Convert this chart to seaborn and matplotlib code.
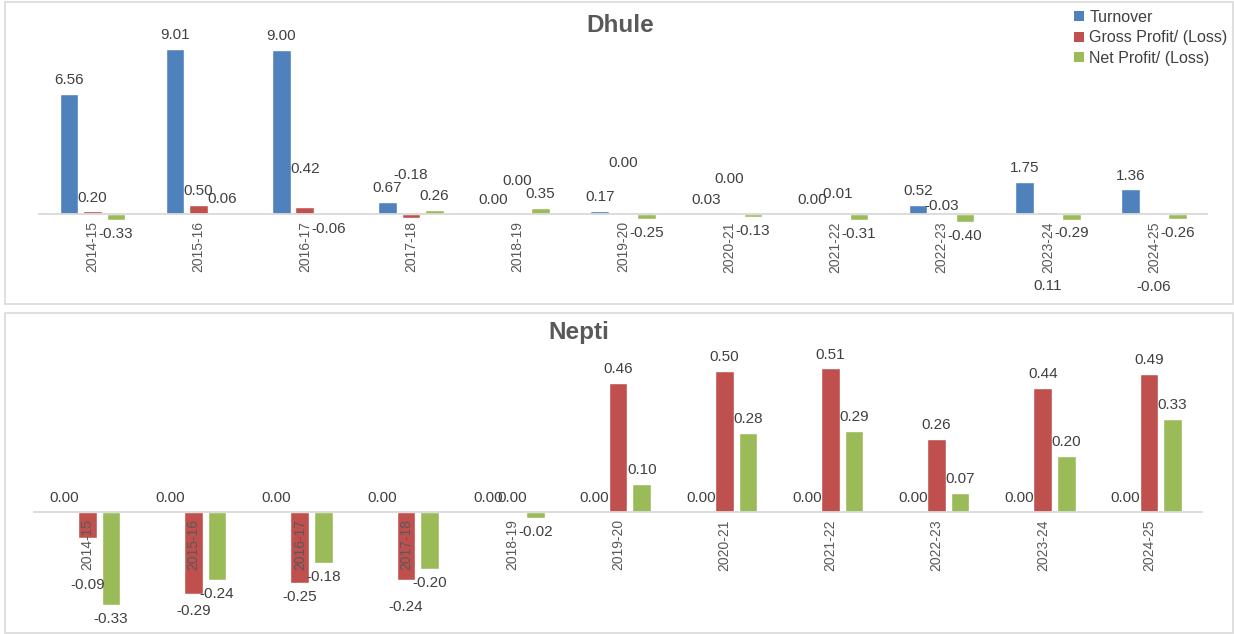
# %%
import numpy as np
import pandas as pd
import seaborn as sns
from matplotlib import pyplot as plt
from matplotlib.patches import Rectangle, Patch

# %% Data
years = ["2014-15", "2015-16", "2016-17", "2017-18", "2018-19", "2019-20",
         "2020-21", "2021-22", "2022-23", "2023-24", "2024-25"]
series = ["Turnover", "Gross Profit/ (Loss)", "Net Profit/ (Loss)"]

dhule_turnover = [6.56, 9.01, 9.00, 0.67, 0.00, 0.17, 0.03, 0.00, 0.52, 1.75, 1.36]
dhule_gross = [0.20, 0.50, 0.42, -0.18, 0.00, 0.00, 0.00, -0.01, -0.03, 0.11, -0.06]
dhule_net = [-0.33, 0.06, -0.06, 0.26, 0.35, -0.25, -0.13, -0.31, -0.40, -0.29, -0.26]

nepti_turnover = [0.00, 0.00, 0.00, 0.00, 0.00, 0.00, 0.00, 0.00, 0.00, 0.00, 0.00]
nepti_gross = [-0.09, -0.29, -0.25, -0.24, 0.00, 0.46, 0.50, 0.51, 0.26, 0.44, 0.49]
nepti_net = [-0.33, -0.24, -0.18, -0.20, -0.02, 0.10, 0.28, 0.29, 0.07, 0.20, 0.33]

# %% Constants
colors = ["#4F81BD", "#C0504D", "#9BBB59"]
W, H = 1234, 634
lblStd = 10  # points between bar end and label centre
# some gross-profit labels were dragged around by hand in the original
dhuleGrossLbl = [9.4, 10, 27.4, 31, 23.8, 36.7, 25.2, 15.1, 6.1, -53.3, -51.8]
neptiGrossLbl = [-33.8, -12, -10, -19.4, 10, 10, 10, 10, 10, 10, 10]

sns.set_theme(style="white")
plt.rcParams["font.family"] = ["Liberation Sans", "DejaVu Sans"]


# %% Funcs
def px_axes(fig, left, top, right, bottom):
    return fig.add_axes([left/W, 1-bottom/H, (right-left)/W, (bottom-top)/H])


def draw(ax, turnover, gross, net, grossLbl, ylim):
    df = pd.DataFrame({
        "year": years*3,
        "series": np.repeat(series, len(years)),
        "value": turnover + gross + net,
    })
    sns.barplot(data=df, x="year", y="value", hue="series", palette=colors,
                saturation=1, width=0.665, gap=0.21, errorbar=None,
                legend=False, ax=ax)
    vals = [turnover, gross, net]
    for k, cont in enumerate(ax.containers):
        for i, bar in enumerate(cont):
            v = vals[k][i]
            x = bar.get_x() + bar.get_width()/2
            dy = lblStd if v >= 0 else -lblStd
            if k == 1:
                dy = grossLbl[i]
            ax.annotate(f"{v:.2f}", (x, v), xytext=(0, dy),
                        textcoords="offset points", ha="center", va="center",
                        fontsize=11, color="#404040")
    ax.set_xlim(-0.5, len(years)-0.5)
    ax.set_ylim(*ylim)
    ax.set_facecolor("none")
    for s in ["left", "top", "right"]:
        ax.spines[s].set_visible(False)
    ax.spines["bottom"].set_position(("data", 0))
    ax.spines["bottom"].set_color("#d9d9d9")
    ax.spines["bottom"].set_linewidth(1.3)
    ax.set_yticks([])
    ax.set_xlabel("")
    ax.set_ylabel("")
    ax.tick_params(axis="x", length=0, pad=5, labelsize=10,
                   labelcolor="#595959", labelrotation=90)
    # year labels sit on top of the negative bars, as in excel
    ax.xaxis.set_zorder(3)


# %%
fig = plt.figure(figsize=(W/100, H/100), dpi=100)

for y0, y1 in [(2, 304), (313, 633)]:
    fig.add_artist(Rectangle((5/W, 1-y1/H), 1228/W, (y1-y0)/H,
                             transform=fig.transFigure, fill=False,
                             edgecolor="#d9d9d9", linewidth=1.2))

ax1 = px_axes(fig, 39.4, 40, 1207, 300)
draw(ax1, dhule_turnover, dhule_gross, dhule_net, dhuleGrossLbl,
     (-(300-214.3)/18.31, (214.3-40)/18.31))

ax2 = px_axes(fig, 34.4, 350, 1202, 625)
draw(ax2, nepti_turnover, nepti_gross, nepti_net, neptiGrossLbl,
     (-(625-512.3)/282, (512.3-350)/282))

fig.text(620/W, 1-26/H, "Dhule", ha="center", va="center", fontsize=17.5,
         fontweight="bold", color="#595959")
fig.text(579/W, 1-332/H, "Nepti", ha="center", va="center", fontsize=17.5,
         fontweight="bold", color="#595959")

handles = [Patch(facecolor=c, edgecolor="none") for c in colors]
fig.legend(handles, series, loc="upper left",
           bbox_to_anchor=(1074/W, 1-10/H), frameon=False, fontsize=11.5,
           handlelength=0.6, handleheight=0.6, handletextpad=0.35,
           labelspacing=0.33, borderpad=0, borderaxespad=0,
           labelcolor="#404040")

plt.savefig("out.png", dpi=100)
plt.close()
